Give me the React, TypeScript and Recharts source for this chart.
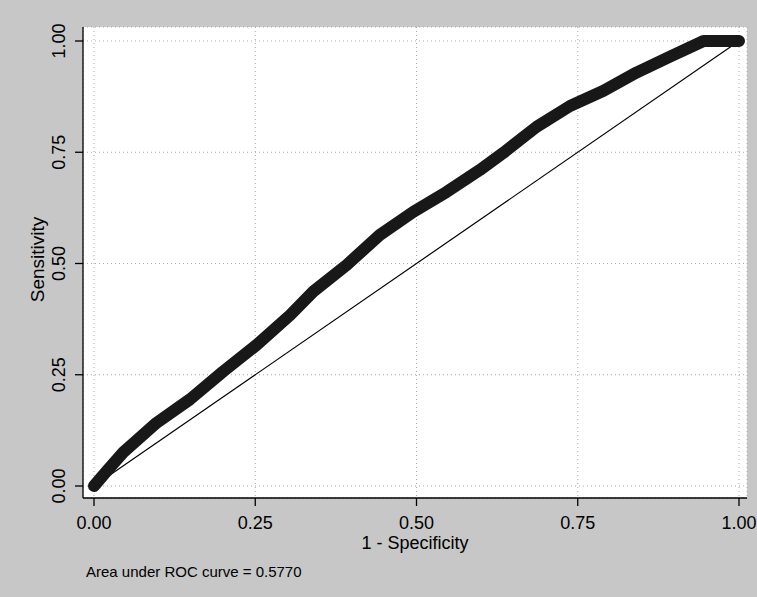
import React from 'react';
import { LineChart, Line, XAxis, YAxis, CartesianGrid, Label } from 'recharts';

// ROC curve points: 1 - specificity (false positive rate) and sensitivity
const fpr = [0, 0.02, 0.0455, 0.097, 0.149, 0.2, 0.252, 0.304, 0.34, 0.392, 0.443, 0.495, 0.547, 0.598, 0.635, 0.686, 0.738, 0.79, 0.841, 0.893, 0.945, 1.0];
const tpr = [0, 0.034, 0.076, 0.142, 0.195, 0.257, 0.317, 0.384, 0.437, 0.497, 0.564, 0.616, 0.661, 0.71, 0.749, 0.807, 0.854, 0.888, 0.929, 0.965, 1.0, 1.0];

// Chance diagonal
const refX = [0, 1];
const refY = [0, 1];

const ticks = [0, 0.25, 0.5, 0.75, 1];
const tickLabels = ['0.00', '0.25', '0.50', '0.75', '1.00'];

const xTitle = '1 - Specificity';
const yTitle = 'Sensitivity';
const note = 'Area under ROC curve = 0.5770';

const rocData = fpr.map((x, i) => ({ x, y: tpr[i] }));
const refData = refX.map((x, i) => ({ x, y: refY[i] }));

const FONT = '"Liberation Sans", Arial, Helvetica, sans-serif';

const labelFor = (v: number) => {
  const i = ticks.indexOf(v);
  return i >= 0 ? tickLabels[i] : v.toFixed(2);
};

const XTick = (props: any) => {
  const { x, y, payload } = props;
  return (
    <text x={x} y={y + 23} textAnchor="middle" fontFamily={FONT} fontSize={18} fill="#000">
      {labelFor(payload.value)}
    </text>
  );
};

const YTick = (props: any) => {
  const { x, y, payload } = props;
  const bx = x - 10;
  return (
    <text
      x={bx}
      y={y}
      textAnchor="middle"
      fontFamily={FONT}
      fontSize={18}
      fill="#000"
      transform={`rotate(-90, ${bx}, ${y})`}
    >
      {labelFor(payload.value)}
    </text>
  );
};

export default function App() {
  return (
    <div
      style={{
        position: 'absolute',
        left: 0,
        top: 0,
        width: 757,
        height: 597,
        background: '#c7c7c7',
      }}
    >
      <LineChart
        width={757}
        height={597}
        margin={{ top: 27, right: 10, bottom: 59, left: 23 }}
      >
        <CartesianGrid
          fill="#ffffff"
          stroke="#a8a8a8"
          strokeDasharray="1 3"
          horizontal
          vertical
        />
        <XAxis
          type="number"
          dataKey="x"
          domain={[-0.017054, 1.0124]}
          allowDataOverflow
          ticks={ticks}
          interval={0}
          height={40}
          tickSize={8}
          tickMargin={0}
          axisLine={{ stroke: '#000', strokeWidth: 1.3 }}
          tickLine={{ stroke: '#000', strokeWidth: 1.3 }}
          tick={<XTick />}
        >
          <Label
            content={(p: any) => {
              const vb = p.viewBox || { x: 83, y: 498, width: 664 };
              return (
                <text
                  x={vb.x + vb.width / 2}
                  y={vb.y + 51}
                  textAnchor="middle"
                  fontFamily={FONT}
                  fontSize={18}
                  fill="#000"
                >
                  {xTitle}
                </text>
              );
            }}
          />
          <Label
            content={(p: any) => {
              const vb = p.viewBox || { x: 83, y: 498, width: 664 };
              return (
                <text
                  x={vb.x + 3}
                  y={vb.y + 79}
                  textAnchor="start"
                  fontFamily={FONT}
                  fontSize={15}
                  fill="#000"
                >
                  {note}
                </text>
              );
            }}
          />
        </XAxis>
        <YAxis
          type="number"
          dataKey="y"
          domain={[-0.026966, 1.031461]}
          allowDataOverflow
          ticks={ticks}
          interval={0}
          width={60}
          tickSize={8}
          tickMargin={0}
          axisLine={{ stroke: '#000', strokeWidth: 1.3 }}
          tickLine={{ stroke: '#000', strokeWidth: 1.3 }}
          tick={<YTick />}
        >
          <Label
            content={(p: any) => {
              const vb = p.viewBox || { x: 23, y: 27, width: 60, height: 471 };
              const cx = vb.x + 21;
              const cy = vb.y + vb.height / 2 - 3;
              return (
                <text
                  x={cx}
                  y={cy}
                  textAnchor="middle"
                  fontFamily={FONT}
                  fontSize={19}
                  fill="#000"
                  transform={`rotate(-90, ${cx}, ${cy})`}
                >
                  {yTitle}
                </text>
              );
            }}
          />
        </YAxis>
        <Line
          data={refData}
          dataKey="y"
          type="linear"
          stroke="#000"
          strokeWidth={1.2}
          dot={false}
          activeDot={false}
          isAnimationActive={false}
        />
        <Line
          data={rocData}
          dataKey="y"
          type="linear"
          stroke="#181818"
          strokeWidth={12}
          strokeLinecap="round"
          strokeLinejoin="round"
          dot={false}
          activeDot={false}
          isAnimationActive={false}
        />
      </LineChart>
    </div>
  );
}
